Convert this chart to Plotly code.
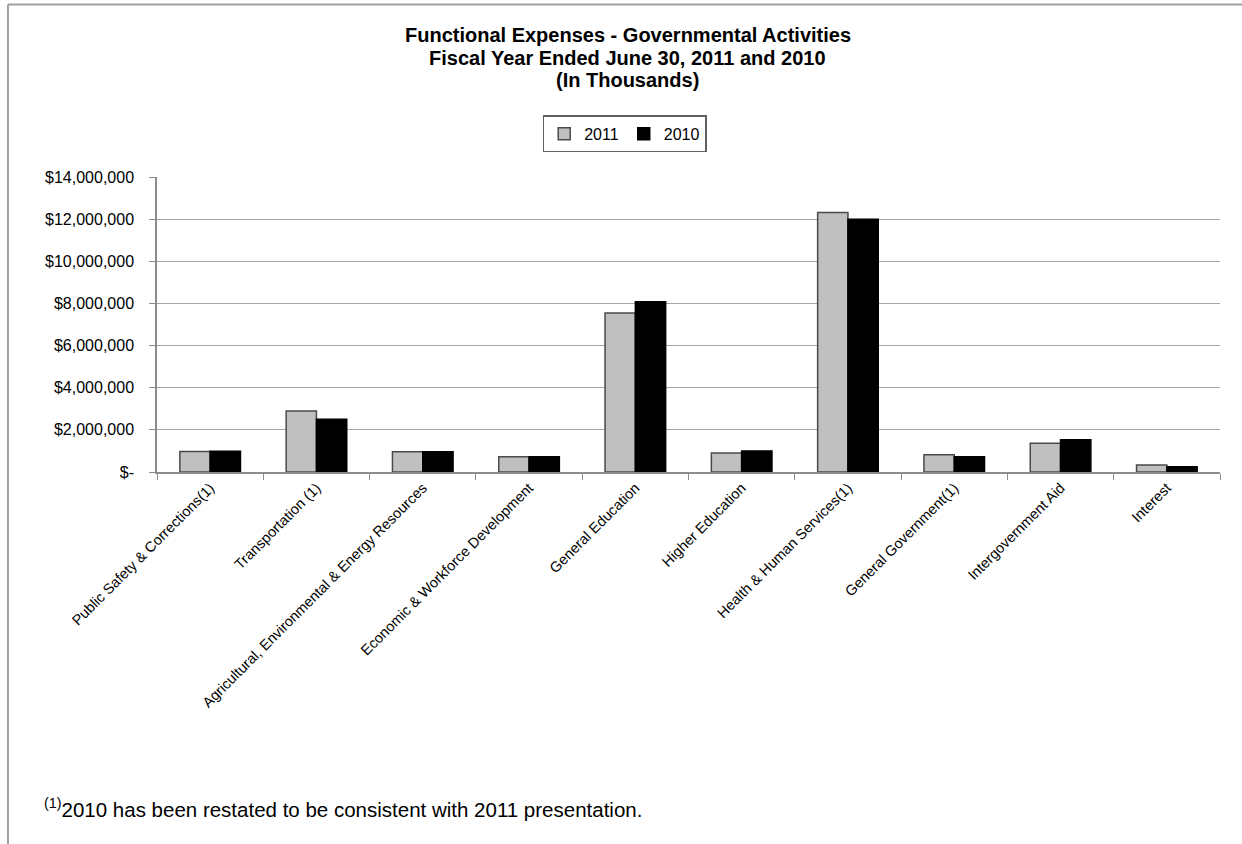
import plotly.graph_objects as go

# Functional expenses by function, in thousands of dollars
categories = [
    "Public Safety & Corrections(1)",
    "Transportation (1)",
    "Agricultural, Environmental & Energy Resources",
    "Economic & Workforce Development",
    "General Education",
    "Higher Education",
    "Health & Human Services(1)",
    "General Government(1)",
    "Intergovernment Aid",
    "Interest",
]
expenses_2011 = [970000, 2900000, 960000, 720000, 7550000, 900000, 12310000, 820000, 1370000, 330000]
expenses_2010 = [980000, 2500000, 960000, 720000, 8080000, 1000000, 12000000, 720000, 1530000, 250000]

y_tick_values = [0, 2000000, 4000000, 6000000, 8000000, 10000000, 12000000, 14000000]
y_tick_labels = ["$-", "$2,000,000", "$4,000,000", "$6,000,000", "$8,000,000",
                 "$10,000,000", "$12,000,000", "$14,000,000"]

title_lines = [
    "Functional Expenses - Governmental Activities",
    "Fiscal Year Ended June 30, 2011 and 2010",
    "(In Thousands)",
]

FONT = "Liberation Sans, Arial, sans-serif"

fig = go.Figure()
fig.add_trace(go.Bar(
    name="2011", x=categories, y=expenses_2011,
    marker=dict(color="#c0c0c0", line=dict(color="#4a4a4a", width=1.5)),
))
fig.add_trace(go.Bar(
    name="2010", x=categories, y=expenses_2010,
    marker=dict(color="#000000", line=dict(color="#000000", width=1.5)),
))

fig.update_layout(
    width=1242, height=844,
    margin=dict(l=157, r=22, t=177, b=372),
    paper_bgcolor="white", plot_bgcolor="white",
    barmode="group", bargap=0.43, bargroupgap=0,
    font=dict(family=FONT, color="black"),
    legend=dict(
        orientation="h", x=0.44, xanchor="center", y=1.146, yanchor="middle",
        bordercolor="#606060", borderwidth=1.5, bgcolor="white",
        font=dict(size=16, family=FONT), itemwidth=30,
        tracegroupgap=0,
    ),
    showlegend=True,
)

# Three-line heading, each line placed on its own for tighter line spacing
for line_text, y_pos in zip(title_lines, [1.4814, 1.4034, 1.3288]):
    fig.add_annotation(
        xref="paper", yref="paper", x=0.443, y=y_pos,
        xanchor="center", yanchor="middle", showarrow=False,
        text=f"<b>{line_text}</b>",
        font=dict(size=20, family=FONT, color="black"),
    )

fig.update_xaxes(
    type="category", tickangle=-45, tickfont=dict(size=14.5, family=FONT),
    showline=True, linecolor="#8c8c8c", linewidth=1.5,
    ticks="outside", tickson="boundaries", ticklen=6, tickcolor="#8c8c8c",
    showgrid=False,
)
fig.update_yaxes(
    range=[0, 14000000], tickvals=y_tick_values, ticktext=y_tick_labels,
    tickfont=dict(size=16, family=FONT), ticklabelstandoff=12,
    showline=True, linecolor="#8c8c8c", linewidth=1.5,
    ticks="outside", ticklen=6, tickcolor="#8c8c8c",
    showgrid=True, gridcolor="#a6a6a6", gridwidth=1.2,
    zeroline=False,
)

# Chart frame along the top and left edges
fig.add_shape(type="line", xref="paper", yref="paper",
              x0=-0.1402, x1=1.03, y0=1.5847, y1=1.5847,
              line=dict(color="#a0a0a0", width=2))
fig.add_shape(type="line", xref="paper", yref="paper",
              x0=-0.1402, x1=-0.1402, y0=1.5847, y1=-1.27,
              line=dict(color="#a0a0a0", width=2))

# Footnote
fig.add_annotation(
    xref="paper", yref="paper", x=-0.108, y=-1.139, xanchor="left", yanchor="middle",
    text="<sup>(1)</sup>2010 has been restated to be consistent with 2011 presentation.",
    showarrow=False, font=dict(size=20.5, family=FONT, color="black"),
)

fig.write_html("out.html")
